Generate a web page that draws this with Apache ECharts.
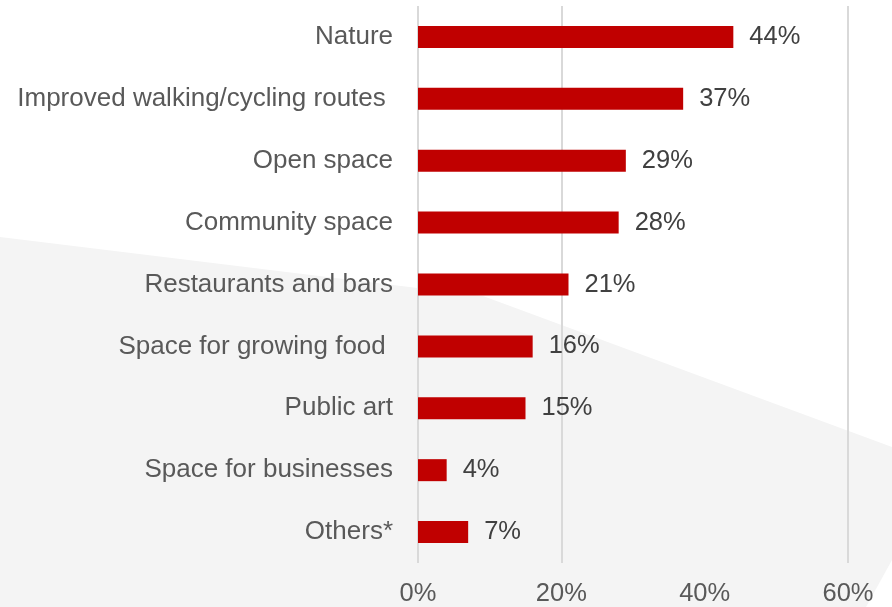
<!DOCTYPE html>
<html>
<head>
<meta charset="utf-8">
<script src="https://cdn.jsdelivr.net/npm/echarts@6/dist/echarts.min.js"></script>
<style>
  html, body { margin: 0; padding: 0; background: #fff; }
  #chart { width: 892px; height: 607px; }
</style>
</head>
<body>
<div id="chart"></div>
<script>
const categories = [
  'Nature',
  'Improved walking/cycling routes ',
  'Open space',
  'Community space',
  'Restaurants and bars',
  'Space for growing food ',
  'Public art',
  'Space for businesses',
  'Others*'
]
const values = [44, 37, 29, 28, 21, 16, 15, 4, 7]
const tickValues = [0, 20, 40, 60]

const FONT = '"Liberation Sans"'

const chart = echarts.init(document.getElementById('chart'))

const option = {
  backgroundColor: '#ffffff',
  animation: false,
  // 背景的浅灰色斜切形状
  graphic: [
    {
      type: 'polygon',
      z: -10,
      silent: true,
      shape: {
        points: [[0, 237], [483, 296], [892, 447], [892, 560], [866, 607], [0, 607]]
      },
      style: { fill: '#f4f4f4' }
    }
  ],
  grid: {
    left: 418,
    right: 892 - 848,
    top: 6,
    bottom: 607 - 563,
    containLabel: false
  },
  xAxis: {
    type: 'value',
    min: tickValues[0],
    max: tickValues[tickValues.length - 1],
    interval: 20,
    axisLine: { show: false },
    axisTick: { show: false },
    axisLabel: {
      color: '#595959',
      fontFamily: FONT,
      fontSize: 25.5,
      margin: 18,
      formatter: '{value}%'
    },
    splitLine: {
      show: true,
      lineStyle: {
        width: 2,
        color: ['#d9d9d9', '#d9d9d9', 'rgba(0,0,0,0)', '#d9d9d9']
      }
    }
  },
  yAxis: {
    type: 'category',
    inverse: true,
    data: categories,
    axisLine: { show: false },
    axisTick: { show: false },
    axisLabel: {
      color: '#595959',
      fontFamily: FONT,
      fontSize: 26,
      margin: 25
    }
  },
  series: [
    {
      type: 'bar',
      data: values,
      barWidth: 22,
      itemStyle: { color: '#c00000' },
      label: {
        show: true,
        position: 'right',
        distance: 16,
        color: '#404040',
        fontFamily: FONT,
        fontSize: 25.5,
        formatter: '{c}%'
      }
    }
  ]
}

chart.setOption(option)
</script>
</body>
</html>
